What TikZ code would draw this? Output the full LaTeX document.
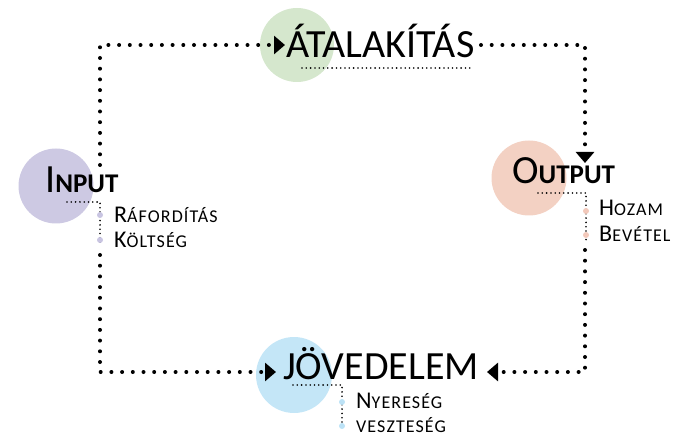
\documentclass[tikz,border=0pt]{standalone}
\usepackage{fontspec}
\setmainfont{Carlito}
\usetikzlibrary{arrows.meta}
\definecolor{lgreen}{RGB}{213,231,205}
\definecolor{lpurple}{RGB}{205,201,227}
\definecolor{lpeach}{RGB}{243,209,195}
\definecolor{lblue}{RGB}{196,230,247}
\definecolor{bpurple}{RGB}{200,196,225}
\definecolor{bpeach}{RGB}{242,200,186}
\definecolor{bblue}{RGB}{188,226,246}
\newcommand\hdbig{\fontsize{40}{40}\selectfont}
\newcommand\hdsmall{\fontsize{27}{27}\selectfont\bfseries}
\newcommand\subbig{\fontsize{24}{24}\selectfont}
\newcommand\subsmall{\fontsize{18}{18}\selectfont\addfontfeature{LetterSpace=6}}
\tikzset{
  bigdots/.style={line width=4pt, line cap=round, dash pattern=on 0pt off 10.7pt,
    -{Triangle[length=11pt,width=18pt]}},
  smalldots/.style={line width=1.8pt, line cap=round, dash pattern=on 0pt off 4.3pt},
  blob/.style={circle, inner sep=0, minimum size=#1},
  bullet/.style={circle, inner sep=0, minimum size=6pt},
  label/.style={anchor=base west, inner sep=0},
}

\begin{document}
\begin{tikzpicture}[x=1pt,y=-1pt]
\useasboundingbox (0,0) rectangle (677,438);

%Shape: Circles
\node[blob=74pt, fill=lgreen] (cAtal) at (297,45) {};
\node[blob=75pt, fill=lpurple] (cIn) at (56,186) {};
\node[blob=75pt, fill=lpeach] (cOut) at (529,178) {};
\node[blob=76pt, fill=lblue] (cJov) at (294,375) {};

%Connector ends
\coordinate (inUp) at (100,165);
\coordinate (inDown) at (100,255);
\coordinate (atalEnd) at (481,45);
\coordinate (outDown) at (585,250);
\coordinate (tipAtal) at (285,45);
\coordinate (tipOut) at (585,163);
\coordinate (tipJovL) at (276,372);
\coordinate (tipJovR) at (487,372);

%Connectors
\draw[bigdots] (inUp) |- (tipAtal);
\draw[bigdots] (atalEnd) -| (tipOut);
\draw[bigdots] (outDown) |- (tipJovR);
\draw[bigdots] (inDown) |- (tipJovL);

%Underlines
\draw[smalldots] (67,202) -| (100,245);
\draw[smalldots] (302,68) -- (473,68);
\draw[smalldots] (538,193) -| (586,240);
\draw[smalldots] (293,385) -| (342,430);

%Bullets
\node[bullet, fill=bpurple] (bIn1) at (100,215) {};
\node[bullet, fill=bpurple] (bIn2) at (100,240) {};
\node[bullet, fill=bpeach] (bOut1) at (586,211) {};
\node[bullet, fill=bpeach] (bOut2) at (586,235) {};
\node[bullet, fill=bblue] (bJov1) at (342,402) {};
\node[bullet, fill=bblue] (bJov2) at (342,426) {};

% Text Node
\node[label] (tAtal) at (286,58) {\hdbig ÁTALAKÍTÁS};
% Text Node
\node[label] (tIn) at (45,193) {\hdbig I\hdsmall NPUT};
% Text Node
\node[label] (tOut) at (512,184) {\hdbig O\hdsmall UTPUT};
% Text Node
\node[label] (tJov) at (283,379) {\hdbig JÖVEDELEM};

% Sub items
\node[label] (sIn1) at (114,223) {\subbig R\subsmall ÁFORDÍTÁS};
\node[label] (sIn2) at (114,248) {\subbig K\subsmall ÖLTSÉG};
\node[label] (sOut1) at (599,216) {\subbig H\subsmall OZAM};
\node[label] (sOut2) at (599,242) {\subbig B\subsmall EVÉTEL};
\node[label] (sJov1) at (356,408) {\subbig N\subsmall YERESÉG};
\node[label] (sJov2) at (356,432) {\subsmall VESZTESÉG};

\end{tikzpicture}
\end{document}
